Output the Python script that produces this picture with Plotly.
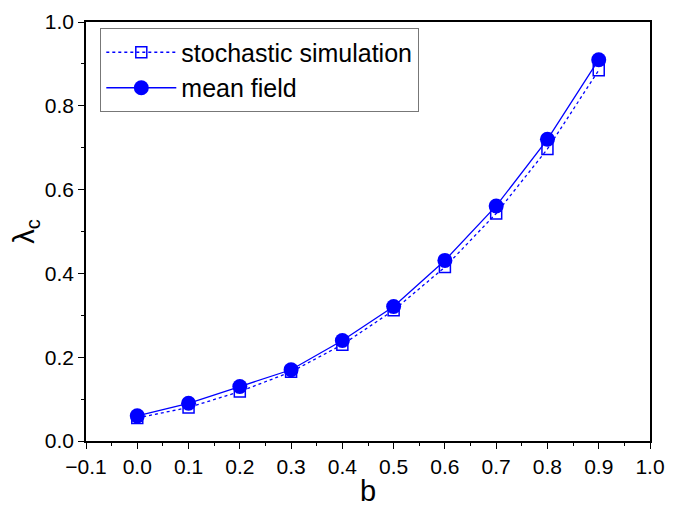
import plotly.graph_objects as go

b = [0.0, 0.1, 0.2, 0.3, 0.4, 0.5, 0.6, 0.7, 0.8, 0.9]
stochastic = [0.055, 0.08, 0.118, 0.165, 0.23, 0.312, 0.415, 0.543, 0.697, 0.885]
mean_field = [0.06, 0.09, 0.13, 0.17, 0.24, 0.321, 0.431, 0.561, 0.72, 0.91]

blue = "#0000ff"
fig = go.Figure()
fig.add_trace(go.Scatter(
    x=b, y=stochastic, name="stochastic simulation", mode="lines+markers",
    line=dict(color=blue, width=1.3, dash="dot"),
    marker=dict(symbol="square-open", size=11, color=blue, line=dict(width=1.5, color=blue)),
))
fig.add_trace(go.Scatter(
    x=b, y=mean_field, name="mean field", mode="lines+markers",
    line=dict(color=blue, width=1.3),
    marker=dict(symbol="circle", size=15, color=blue),
))

font_family = "Liberation Sans, Arial"
axis_common = dict(
    showgrid=False, zeroline=False, showline=True, linecolor="black", linewidth=1.5,
    mirror=True, ticks="outside", ticklen=6, tickwidth=1.3, tickcolor="black",
    tickfont=dict(family=font_family, size=21, color="black"), automargin=False,
)
fig.update_xaxes(
    range=[-0.1, 1.0], dtick=0.1, tick0=0, tickformat=".1f",
    minor=dict(dtick=0.05, ticks="outside", ticklen=3, tickcolor="black", tickwidth=1.3),
    title=dict(text="b", font=dict(family=font_family, size=29, color="black"), standoff=4),
    **axis_common,
)
fig.update_yaxes(
    range=[0, 1.0], dtick=0.2, tick0=0, tickformat=".1f",
    minor=dict(dtick=0.1, ticks="outside", ticklen=3, tickcolor="black", tickwidth=1.3),
    title=dict(text="λ<sub>c</sub>", font=dict(family=font_family, size=29, color="black"), standoff=8),
    **axis_common,
)
# page body has an 8px default margin, so the figure is sized to fit the 683x509 window
fig.update_layout(
    width=675, height=501,
    margin=dict(l=78, r=33, t=14, b=68, autoexpand=False),
    plot_bgcolor="white", paper_bgcolor="white",
    legend=dict(
        x=0.025, y=0.985, xanchor="left", yanchor="top",
        bordercolor="#777777", borderwidth=1.2, bgcolor="white",
        font=dict(family=font_family, size=25, color="black"),
        tracegroupgap=0, itemwidth=70,
    ),
)
fig.write_html("out.html")
